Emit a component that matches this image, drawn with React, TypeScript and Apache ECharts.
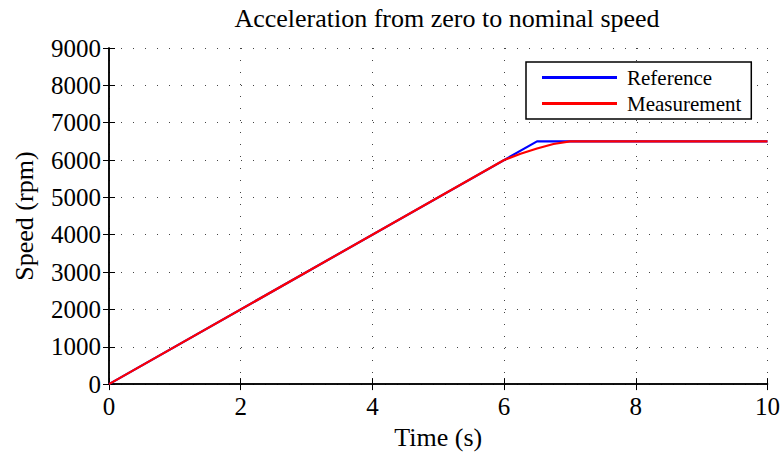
import React, { useEffect, useRef } from "react";
import * as echarts from "echarts";

const referenceData: [number, number][] = [
  [0, 0],
  [6.5, 6500],
  [10, 6500],
];
const measurementData: [number, number][] = [
  [0, 0],
  [6.0, 6000],
  [6.25, 6170],
  [6.5, 6310],
  [6.75, 6430],
  [7.0, 6500],
  [10, 6500],
];
const titleText = "Acceleration from zero to nominal speed";
const xName = "Time (s)";
const yName = "Speed (rpm)";

const FONT = "Liberation Serif";

export default function App() {
  const ref = useRef<HTMLDivElement>(null);
  useEffect(() => {
    if (!ref.current) return;
    const chart = echarts.init(ref.current, null, { renderer: "svg" });
    const splitLine = { show: true, lineStyle: { color: "#444", type: [1, 11] as any, width: 1 } };
    const axisLine = { show: true, lineStyle: { color: "#000", width: 1.5 } };
    const axisTick = { show: true, inside: true, length: 6, lineStyle: { color: "#000", width: 1 } };
    chart.setOption({
      animation: false,
      backgroundColor: "#fff",
      title: {
        text: titleText,
        left: 442,
        top: 0,
        textAlign: "center",
        textStyle: { fontFamily: FONT, fontSize: 26, fontWeight: "normal", color: "#000" },
      },
      grid: { left: 109, right: 15, top: 48, bottom: 67, show: false },
      legend: {
        orient: "vertical",
        left: 526,
        top: 62,
        itemWidth: 75,
        itemHeight: 3,
        itemGap: 5,
        padding: [5, 10, 5, 16],
        borderColor: "#000",
        borderWidth: 1.5,
        backgroundColor: "#fff",
        icon: "rect",
        textStyle: { fontFamily: FONT, fontSize: 21, color: "#000", padding: [0, 0, 0, 5] },
        data: ["Reference", "Measurement"],
      },
      xAxis: [
        {
          type: "value",
          min: 0,
          max: 10,
          interval: 2,
          name: xName,
          nameLocation: "middle",
          nameGap: 35,
          nameTextStyle: { fontFamily: FONT, fontSize: 26, color: "#000" },
          axisLine,
          axisTick,
          axisLabel: { fontFamily: FONT, fontSize: 25, color: "#000", margin: 10 },
          splitLine,
        },
        {
          type: "value",
          position: "top",
          min: 0,
          max: 10,
          interval: 2,
          axisLine,
          axisTick,
          axisLabel: { show: false },
          splitLine: { show: false },
        },
      ],
      yAxis: [
        {
          type: "value",
          min: 0,
          max: 9000,
          interval: 1000,
          name: yName,
          nameLocation: "middle",
          nameGap: 72,
          nameTextStyle: { fontFamily: FONT, fontSize: 26, color: "#000" },
          axisLine,
          axisTick,
          axisLabel: { fontFamily: FONT, fontSize: 25, color: "#000", margin: 8, formatter: (v: number) => String(v) },
          splitLine,
        },
        {
          type: "value",
          position: "right",
          min: 0,
          max: 9000,
          interval: 1000,
          axisLine,
          axisTick,
          axisLabel: { show: false },
          splitLine: { show: false },
        },
      ],
      series: [
        {
          name: "Reference",
          type: "line",
          data: referenceData,
          showSymbol: false,
          color: "#0000ff",
          lineStyle: { color: "#0000ff", width: 2.2 },
        },
        {
          name: "Measurement",
          type: "line",
          data: measurementData,
          showSymbol: false,
          color: "#ff0000",
          lineStyle: { color: "#ff0000", width: 2.2 },
        },
      ],
    });
    return () => chart.dispose();
  }, []);
  return <div ref={ref} style={{ width: 783, height: 455, position: "absolute", left: 0, top: 0 }} />;
}
